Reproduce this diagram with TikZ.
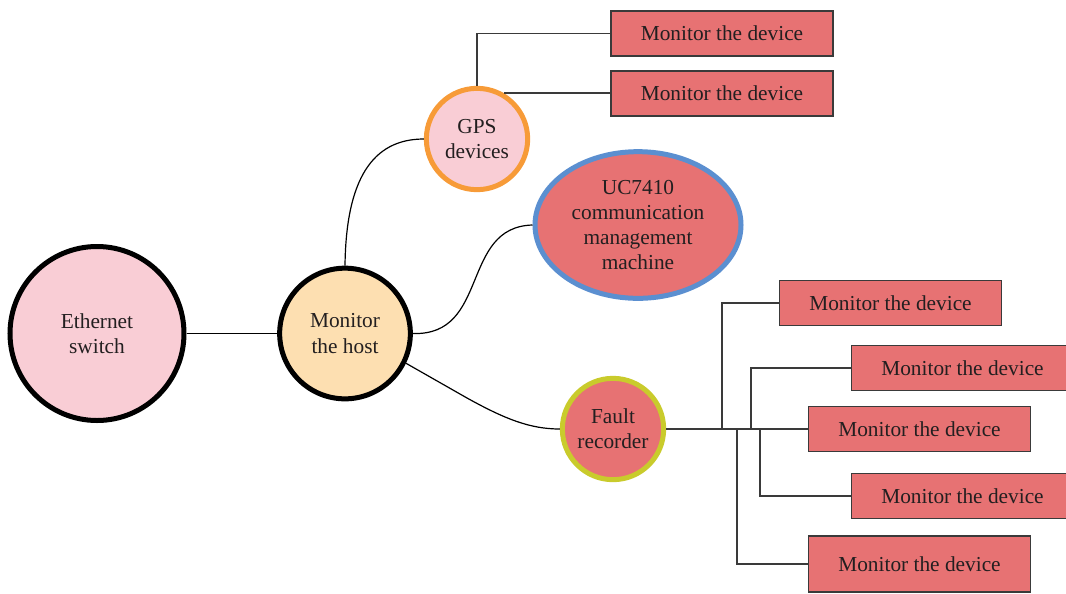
\documentclass[tikz,border=0pt]{standalone}
\usepackage{fontspec}
\setmainfont{Liberation Serif}
\usetikzlibrary{shapes.geometric}
\definecolor{inkc}{HTML}{231F20}
\definecolor{pinkfill}{HTML}{F9CDD5}
\definecolor{peach}{HTML}{FDDFB1}
\definecolor{salmon}{HTML}{E77273}
\definecolor{gpsring}{HTML}{F79B38}
\definecolor{ucring}{HTML}{5B8FD0}
\definecolor{faultring}{HTML}{C9CB2C}
\definecolor{boxline}{HTML}{3A3A3A}
\tikzset{
  lbl/.style={font=\fontsize{16}{18.8}\selectfont, text=inkc, align=center, inner sep=0pt},
  hub/.style={lbl, circle, line width=3.75pt},
  devbox/.style={lbl, rectangle, draw=boxline, fill=salmon, line width=1.1pt,
    minimum width=166.5pt, minimum height=33.5pt},
  curve/.style={draw=black, line width=0.9pt},
  tree/.style={draw=boxline, line width=1.1pt},
}
\begin{document}
\begin{tikzpicture}[x=0.75pt, y=-0.75pt]
\useasboundingbox (0,0) rectangle (1066,593);

% main nodes
\node[hub, draw=black, fill=pinkfill, minimum size=130.5pt] (eth) at (97,333.5) {Ethernet\\switch};
\node[hub, draw=black, fill=peach, minimum size=98pt] (host) at (345,333.5) {Monitor\\the host};
\node[hub, draw=gpsring, fill=pinkfill, minimum size=76pt] (gps) at (477,139) {GPS\\devices};
\node[lbl, ellipse, draw=ucring, fill=salmon, line width=3.75pt,
      minimum width=154.5pt, minimum height=110pt] (uc) at (638,225)
      {UC7410\\communication\\management\\machine};
\node[hub, draw=faultring, fill=salmon, minimum size=76pt] (fault) at (613,429) {Fault\\recorder};

% device boxes
\node[devbox] (g1) at (722,33.5) {Monitor the device};
\node[devbox] (g2) at (722,93.5) {Monitor the device};
\node[devbox] (f1) at (890.5,303) {Monitor the device};
\node[devbox] (f2) at (962.5,368) {Monitor the device};
\node[devbox] (f3) at (919.5,429) {Monitor the device};
\node[devbox] (f4) at (962.5,496) {Monitor the device};
\node[devbox, minimum height=42pt] (f5) at (919.5,564) {Monitor the device};

% links from the host
\draw[curve] (eth.east) -- (host.west);
\draw[curve] (host.north) .. controls (346,180) and (372,139) .. (gps.west);
\draw[curve] (host.east) .. controls (490,336) and (460,227) .. (uc.west);
\coordinate (k) at (467,398);
\draw[curve] (host.-26) -- (k) .. controls (505,419) and (530,429) .. (fault.west);

% GPS branches
\draw[tree] (gps.north) |- (g1.west);
\draw[tree] (gps.60) -- (gps.60 -| g2.west);

% fault recorder branches
\draw[tree] (fault.east) -- (f3.west);
\coordinate (j1) at (722,429);
\coordinate (j2) at (751,429);
\coordinate (j3) at (760,429);
\coordinate (j4) at (737,429);
\draw[tree] (j1) |- (f1.west);
\draw[tree] (j2) |- (f2.west);
\draw[tree] (j3) |- (f4.west);
\draw[tree] (j4) |- (f5.west);
\end{tikzpicture}
\end{document}
